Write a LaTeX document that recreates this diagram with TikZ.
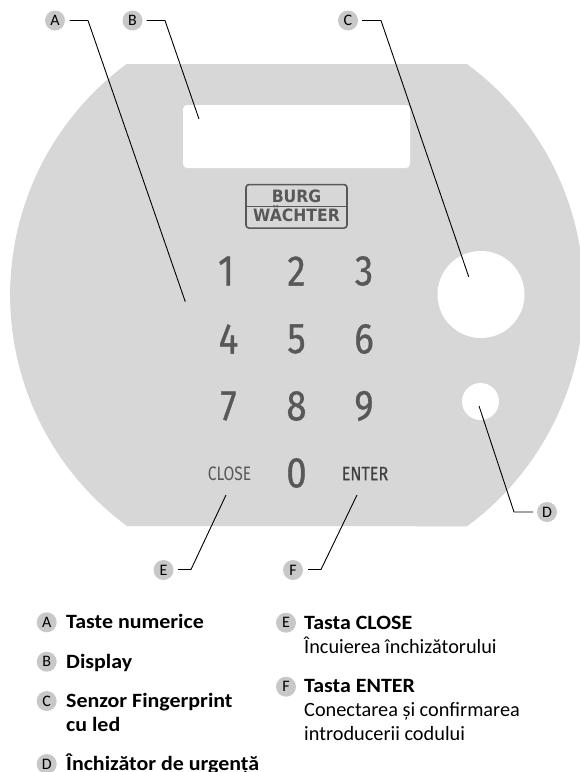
\documentclass[tikz,border=0pt]{standalone}
\usepackage{fontspec}
\setmainfont{Carlito}
\newfontfamily\legendbold[FakeStretch=1.08]{Carlito}
\newfontfamily\digitfont[FakeBold=0.7,FakeStretch=0.85]{Fira Sans}
\newfontfamily\closefont[FakeStretch=0.8]{Fira Sans}
\newfontfamily\enterfont[FakeStretch=0.83,FakeBold=0.3]{Fira Sans}
\newfontfamily\logofont[FakeStretch=0.92]{DejaVu Sans}
\definecolor{plate}{HTML}{D7D7D7}
\definecolor{badge}{HTML}{C8C8C8}
\definecolor{keyink}{HTML}{585858}
\definecolor{enterink}{HTML}{404040}
\tikzset{
  x=1pt,y=-1pt,
  leader/.style={draw=black,line width=0.9pt},
  badgenode/.style={circle,fill=badge,minimum size=20pt,inner sep=0pt,font=\fontsize{16}{16}\selectfont},
  keydigit/.style={inner sep=0pt,text=keyink,font=\digitfont\fontsize{43}{43}\selectfont},
  closeword/.style={inner sep=0pt,text=keyink,font=\closefont\fontsize{19.5}{19.5}\selectfont},
  enterword/.style={inner sep=0pt,text=enterink,font=\enterfont\fontsize{19.5}{19.5}\selectfont},
  logoword/.style={anchor=base,inner sep=0pt,text=keyink,font=\logofont\bfseries\fontsize{17}{17}\selectfont},
  hole/.style={circle,fill=white,inner sep=0pt},
  legendb/.style={anchor=base west,inner sep=0pt,font=\legendbold\fontsize{20.3}{20.3}\bfseries\selectfont},
  legendr/.style={anchor=base west,inner sep=0pt,font=\fontsize{20.3}{20.3}\selectfont},
}
\begin{document}
\begin{tikzpicture}
\useasboundingbox (0,0) rectangle (580,772);
\fill[plate] (127,64) -- (467,64) arc[start angle=-53.65,end angle=53.65,radius=287] -- (127,526) arc[start angle=126.35,end angle=233.65,radius=287] -- cycle;
\fill[white,rounded corners=4pt] (183,105) rectangle (410,168);
\node[hole,minimum size=87pt] (sensor) at (481,294.5) {};
\node[hole,minimum size=37pt] (emergency) at (480.5,401.5) {};
% logo
\node[draw=keyink,line width=1.6pt,rounded corners=3pt,minimum width=101pt,minimum height=43.5pt,inner sep=0pt] (logo) at (296.5,206.3) {};
\draw[keyink,line width=1.1pt] (logo.west) -- (logo.east);
\node[logoword] (burg) at (296.5,202.7) {BURG};
\node[logoword] (waechter) at (296.5,221.7) {WÄCHTER};
% keys
\node[keydigit] (k1) at (226,271) {1};
\node[keydigit] (k2) at (296.5,271) {2};
\node[keydigit] (k3) at (364,271) {3};
\node[keydigit] (k4) at (228.5,339) {4};
\node[keydigit] (k5) at (296.5,339) {5};
\node[keydigit] (k6) at (364,339) {6};
\node[keydigit] (k7) at (228.5,406) {7};
\node[keydigit] (k8) at (296.5,406) {8};
\node[keydigit] (k9) at (364,406) {9};
\node[keydigit] (k0) at (296.5,473) {0};
\node[closeword] (close) at (229.5,473.5) {CLOSE};
\node[enterword] (enter) at (365,473.5) {ENTER};
% badges
\node[badgenode] (A) at (55,20.5) {A};
\node[badgenode] (B) at (132.5,20.5) {B};
\node[badgenode] (C) at (348,20.5) {C};
\node[badgenode] (D) at (547,512) {D};
\node[badgenode] (E) at (163.5,570) {E};
\node[badgenode] (F) at (293,570) {F};
% leader ends
\coordinate (Aa) at (69.5,20.5); \coordinate (Ab) at (88,20.5); \coordinate (Ac) at (185.3,301.7);
\coordinate (Ba) at (146.5,20.5); \coordinate (Bb) at (165,20.5); \coordinate (Bc) at (199,119);
\coordinate (Ca) at (362,20.5); \coordinate (Cb) at (381,20.5); \coordinate (Cc) at (468.7,276.7);
\coordinate (Da) at (533,512); \coordinate (Db) at (514,512); \coordinate (Dc) at (479,406);
\coordinate (Ea) at (178,569.5); \coordinate (Eb) at (191,569.5); \coordinate (Ec) at (226,495);
\coordinate (Fa) at (308,569.5); \coordinate (Fb) at (321,569.5); \coordinate (Fc) at (357,495);
\draw[leader] (Aa) -- (Ab) -- (Ac);
\draw[leader] (Ba) -- (Bb) -- (Bc);
\draw[leader] (Ca) -- (Cb) -- (Cc);
\draw[leader] (Da) -- (Db) -- (Dc);
\draw[leader] (Ea) -- (Eb) -- (Ec);
\draw[leader] (Fa) -- (Fb) -- (Fc);
% legend
\node[badgenode] (la) at (46.7,622.3) {A};
\node[legendb] (ta) at (66,628.5) {Taste numerice};
\node[badgenode] (lb) at (46.7,661.7) {B};
\node[legendb] (tb) at (66,668) {Display};
\node[badgenode] (lc) at (46.7,701) {C};
\node[legendb] (tc) at (66,707) {Senzor Fingerprint};
\node[legendb] (tc2) at (66,731) {cu led};
\node[badgenode] (ld) at (46.7,764) {D};
\node[legendb] (td) at (66,770.5) {Închizător de urgență};
\node[badgenode] (le) at (286,622.7) {E};
\node[legendb] (te) at (304,629) {Tasta CLOSE};
\node[legendr] (te2) at (304,653) {Încuierea închizătorului};
\node[badgenode] (lf) at (286,686.7) {F};
\node[legendb] (tf) at (304,692) {Tasta ENTER};
\node[legendr] (tf2) at (304,716) {Conectarea și confirmarea};
\node[legendr] (tf3) at (304,740) {introducerii codului};
\end{tikzpicture}
\end{document}
